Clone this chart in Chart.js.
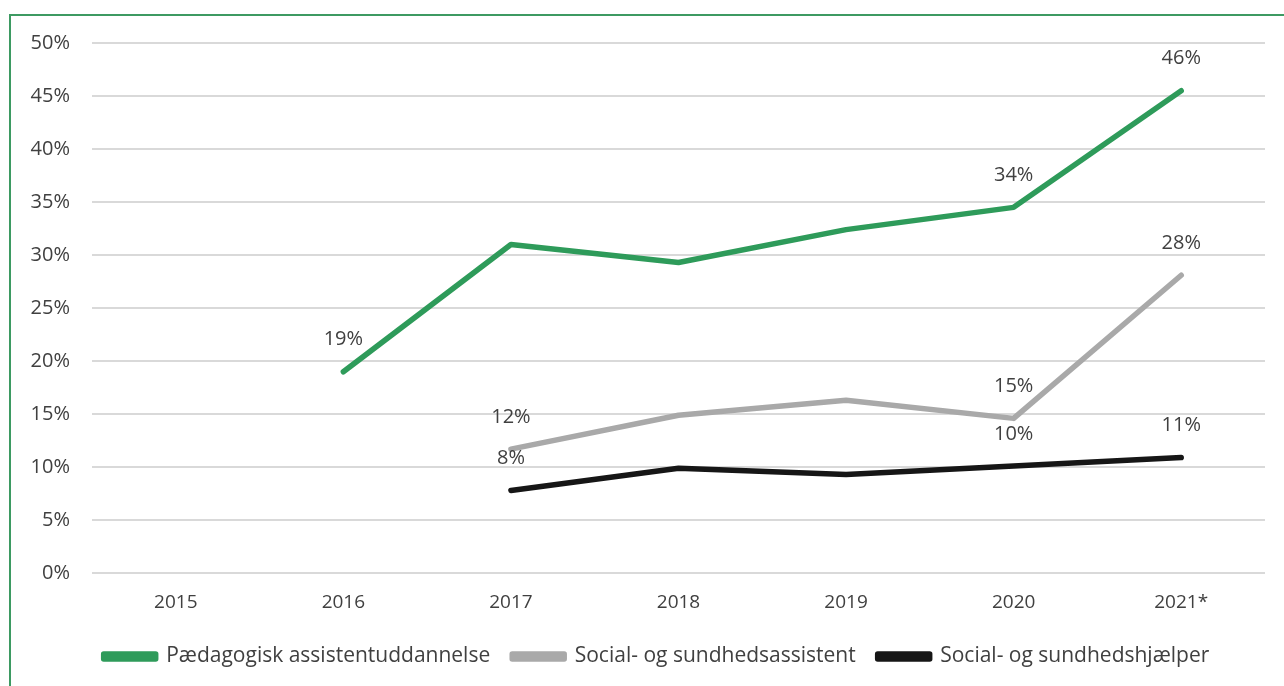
<!DOCTYPE html>
<html>
<head>
<meta charset="utf-8">
<script src="https://cdn.jsdelivr.net/npm/chart.js@4.4.1/dist/chart.umd.min.js"></script>
<style>
  html, body { margin: 0; padding: 0; background: #fff; }
  #wrap { position: relative; width: 1284px; height: 686px; overflow: hidden; }
  #frame {
    position: absolute; left: 9px; top: 14px; width: 1300px; height: 700px;
    border-top: 2px solid #3d9a62; border-left: 2px solid #3d9a62;
    box-sizing: border-box;
  }
  canvas { position: absolute; left: 0; top: 0; }
</style>
</head>
<body>
<div id="wrap">
  <div id="frame"></div>
  <canvas id="chart" width="1284" height="686"></canvas>
</div>
<script>
/* ======================================
   DATA
====================================== */
const years = ["2015", "2016", "2017", "2018", "2019", "2020", "2021*"];

const paedagogisk = [null, 19.0, 31.0, 29.3, 32.4, 34.5, 45.5];
const sosuAssistent = [null, null, 11.7, 14.9, 16.3, 14.6, 28.1];
const sosuHjaelper = [null, null, 7.8, 9.9, 9.3, 10.1, 10.9];

// value labels shown in the chart (null = no label)
const paedLabels = [null, "19%", null, null, null, "34%", "46%"];
const assistLabels = [null, null, "12%", null, null, "15%", "28%"];
const hjaelpLabels = [null, null, "8%", null, null, "10%", "11%"];

const yTicks = [0, 5, 10, 15, 20, 25, 30, 35, 40, 45, 50];

const FONT = "'Open Sans', Lato, sans-serif";
const TEXT = "#404040";


/* ======================================
   PLUGINS
====================================== */
const valueLabels = {
    id: "valueLabels",
    afterDatasetsDraw(chart) {
        const ctx = chart.ctx;
        ctx.save();
        ctx.font = "20px " + FONT;
        ctx.fillStyle = TEXT;
        ctx.textAlign = "center";
        ctx.textBaseline = "middle";
        chart.data.datasets.forEach((ds, i) => {
            const meta = chart.getDatasetMeta(i);
            (ds.valueLabels || []).forEach((txt, j) => {
                if (!txt) return;
                const pt = meta.data[j];
                ctx.fillText(txt, pt.x, pt.y - 32);
            });
        });
        ctx.restore();
    }
};

// the original legend sits a bit right of the canvas centre
const legendNudge = {
    id: "legendNudge",
    afterLayout(chart) {
        if (!chart.legend) return;
        chart.legend.left += 24;
        chart.legend.right += 24;
    }
};


/* ======================================
   CHART
====================================== */
function line(label, data, color, labels) {
    return {
        label,
        data,
        valueLabels: labels,
        borderColor: color,
        backgroundColor: color,
        borderWidth: 5.5,
        tension: 0,
        pointRadius: 0,
        borderCapStyle: "round",
        borderJoinStyle: "round",
        spanGaps: false
    };
}

new Chart(document.getElementById("chart").getContext("2d"), {
    type: "line",
    data: {
        labels: years,
        datasets: [
            line("Pædagogisk assistentuddannelse", paedagogisk, "#2e9b5a", paedLabels),
            line("Social- og sundhedsassistent", sosuAssistent, "#a9a9a9", assistLabels),
            line("Social- og sundhedshjælper", sosuHjaelper, "#161616", hjaelpLabels)
        ]
    },
    options: {
        responsive: false,
        animation: false,
        layout: { padding: { top: 43, right: 19, left: 0, bottom: 9 } },
        plugins: {
            tooltip: { enabled: false },
            legend: {
                position: "bottom",
                labels: {
                    font: { family: FONT, size: 21 },
                    color: TEXT,
                    boxWidth: 52,
                    boxHeight: 5,
                    padding: 22
                }
            }
        },
        scales: {
            x: {
                offset: true,
                grid: { display: false },
                border: { display: false },
                ticks: { color: TEXT, font: { family: FONT, size: 19 }, padding: 10 }
            },
            y: {
                min: 0,
                max: 50,
                afterFit(scale) { scale.width = 92; },
                afterBuildTicks(scale) { scale.ticks = yTicks.map(v => ({ value: v })); },
                grid: { color: "#d9d9d9", lineWidth: 2, drawTicks: false },
                border: { display: false },
                ticks: {
                    color: TEXT,
                    font: { family: FONT, size: 20 },
                    padding: 22,
                    callback: v => v + "%"
                }
            }
        }
    },
    plugins: [valueLabels, legendNudge]
});
</script>
</body>
</html>
